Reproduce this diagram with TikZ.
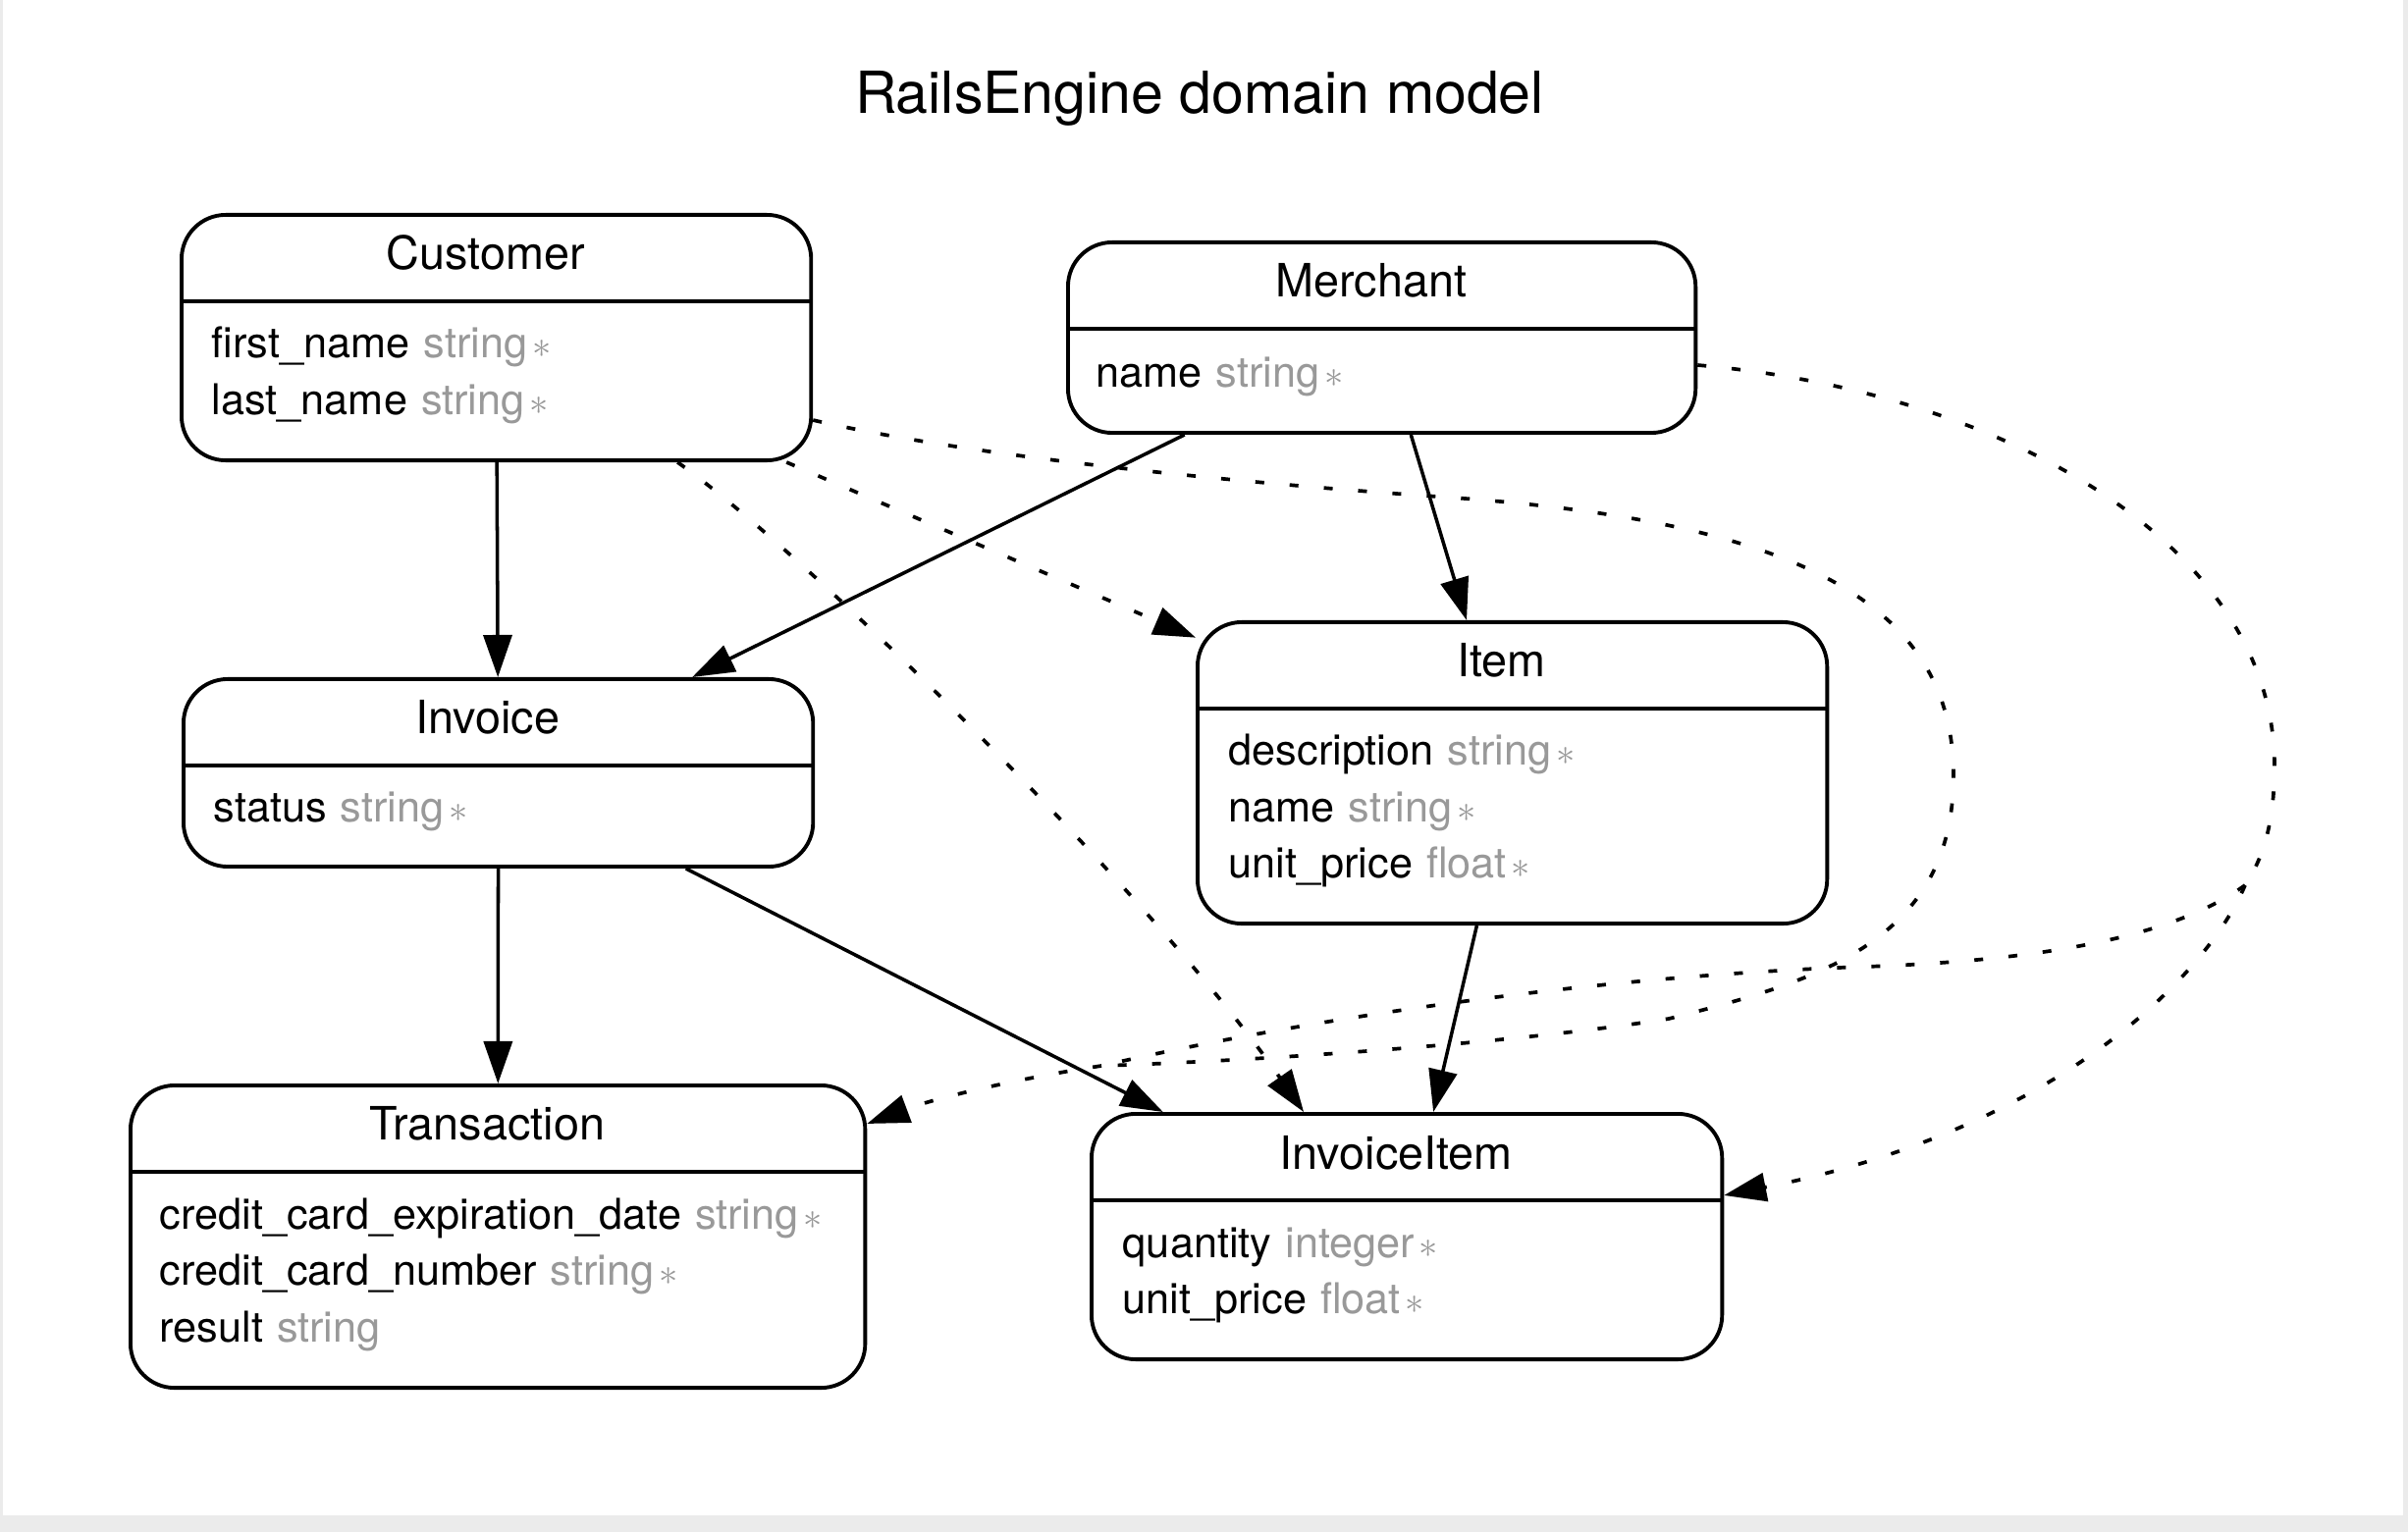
\documentclass[tikz,border=0pt]{standalone}
\usepackage{fontspec}
\setmainfont{TeX Gyre Heros}
\usepackage{tikz}
\usetikzlibrary{calc}
\usetikzlibrary{arrows.meta}

\definecolor{typegray}{HTML}{999999}
\definecolor{framegray}{HTML}{EBEBEB}
\newcommand{\attype}[1]{\hspace{0.14cm}\textcolor{typegray}{#1}}
\newcommand{\reqmark}{\hspace{0.05cm}\textcolor{typegray}{\fontsize{11pt}{11pt}\selectfont$\ast$}}

\begin{document}
\begin{tikzpicture}
		[
		x=0.01cm, y=-0.01cm,
		font=\fontsize{12.3pt}{14pt}\selectfont
		]
		
		% Styles for entities and associations
		\tikzstyle{entity}=[draw, fill=white, line width=1.1pt, rounded corners=0.45cm, inner sep=0, anchor=north west];
		\tikzstyle{ename}=[inner sep=0, anchor=base, font=\fontsize{13.3pt}{15pt}\selectfont];
		\tikzstyle{attr}=[inner sep=0, anchor=base west];
		\tikzstyle{rel}=[line width=1pt, -{Triangle[length=0.43cm, width=0.29cm]}];
		\tikzstyle{thru part}=[line width=1.05pt, dash pattern=on 0.09cm off 0.26cm];
		\tikzstyle{thru}=[rel, thru part];
		
		% Frame
		\useasboundingbox (0,0) rectangle (2453,1561);
		\fill[framegray] (0,0) rectangle (2453,1561);
		\fill[white] (3,0) rectangle (2448,1544);
		
		% Title
		\node[inner sep=0, anchor=base, font=\fontsize{16.8pt}{20pt}\selectfont] (title) at (1222,116) {RailsEngine domain model};
		
		% The entities
		\node[entity, minimum width=6.41cm, minimum height=2.50cm] (cust) at (183,217) {};
		\node[entity, minimum width=6.39cm, minimum height=1.94cm] (merch) at (1086,245) {};
		\node[entity, minimum width=6.41cm, minimum height=3.07cm] (item) at (1218,632) {};
		\node[entity, minimum width=6.41cm, minimum height=1.91cm] (inv) at (185,690) {};
		\node[entity, minimum width=7.48cm, minimum height=3.08cm] (trans) at (131,1104) {};
		\node[entity, minimum width=6.42cm, minimum height=2.50cm] (ii) at (1110,1133) {};
		
		% Names and header lines
		\foreach \e/\n in {cust/Customer, merch/Merchant, item/Item, inv/Invoice, trans/Transaction, ii/InvoiceItem}{
			\draw[line width=1.1pt] ($(\e.north west)+(0,90)$) -- ($(\e.north east)+(0,90)$);
			\node[ename] (\e-name) at ($(\e.north)+(-11,58)$) {\n};
		}
		
		% Attributes
		\foreach \a/\t/\m [count=\i from 0] in {first\_name/string/\reqmark, last\_name/string/\reqmark}
			\node[attr] (cust-\i) at ($(cust.north west)+(32,148+57.5*\i)$) {\a\attype{\t}\m};
		\node[attr] (merch-0) at ($(merch.north west)+(30,150)$) {name\attype{string}\reqmark};
		\foreach \a/\t/\m [count=\i from 0] in {description/string/\reqmark, name/string/\reqmark, unit\_price/float/\reqmark}
			\node[attr] (item-\i) at ($(item.north west)+(33,148+57.5*\i)$) {\a\attype{\t}\m};
		\node[attr] (inv-0) at ($(inv.north west)+(32,148)$) {status\attype{string}\reqmark};
		\foreach \a/\t/\m [count=\i from 0] in {credit\_card\_expiration\_date/string/\reqmark, credit\_card\_number/string/\reqmark, result/string/{}}
			\node[attr] (trans-\i) at ($(trans.north west)+(31,148+57.5*\i)$) {\a\attype{\t}\m};
		\foreach \a/\t/\m [count=\i from 0] in {quantity/integer/\reqmark, unit\_price/float/\reqmark}
			\node[attr] (ii-\i) at ($(ii.north west)+(33,148+57.5*\i)$) {\a\attype{\t}\m};
		
		% Direct associations
		\draw[rel] (cust) -- (inv);
		\draw[rel] (merch) -- (inv);
		\draw[rel] (merch) -- (item);
		\draw[rel] (inv) -- (trans);
		\draw[rel] (inv) -- (ii);
		\draw[rel] (item) -- ([xshift=0.27cm]ii.north);
		
		% Indirect associations (concentrated)
		\coordinate (split) at (2287,902);
		\coordinate (merge) at (1122,1086);
		\draw[thru] (cust) -- (item);
		\draw[thru] ([xshift=1.845cm]cust.south) .. controls (830,570) and (1180,920) .. ([xshift=-1.05cm]ii.north);
		% merchant loop
		\draw[thru part] ([yshift=-0.28cm]merch.east) .. controls (2050,400) and (2317,560) .. (2317,780) .. controls (2317,840) and (2305,875) .. (split);
		\draw[thru] (split) .. controls (2250,990) and (2100,1150) .. ([yshift=0.42cm]ii.east);
		\draw[thru part] (split) .. controls (2220,950) and (2100,978) .. (1900,985) .. controls (1600,995) and (1300,1045) .. (merge);
		% customer loop
		\draw[thru part] ([yshift=-0.84cm]cust.east) .. controls (1000,468) and (1300,495) .. (1479,507) .. controls (1800,530) and (1990,600) .. (1990,790) .. controls (1990,960) and (1850,1000) .. (1700,1038) .. controls (1550,1062) and (1300,1080) .. (merge);
		\draw[thru] (merge) .. controls (1030,1100) and (950,1120) .. ([yshift=1.15cm]trans.east);
		
		\end{tikzpicture}
\end{document}
